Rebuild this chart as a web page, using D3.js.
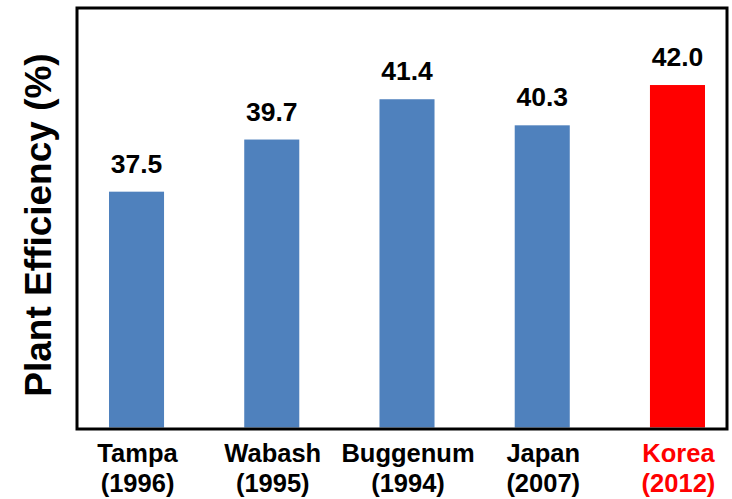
<!DOCTYPE html>
<html>
<head>
<meta charset="utf-8">
<script src="https://cdn.jsdelivr.net/npm/d3@7"></script>
<style>
  html, body { margin: 0; padding: 0; background: #fff; }
  text { font-family: "Liberation Sans", Arial, sans-serif; font-weight: bold; }
</style>
</head>
<body>
<svg id="chart" width="732" height="499"></svg>
<script>
const categories = ["Tampa", "Wabash", "Buggenum", "Japan", "Korea"];
const years = ["(1996)", "(1995)", "(1994)", "(2007)", "(2012)"];
const efficiency = [37.5, 39.7, 41.4, 40.3, 42.0];
const highlight = ["Korea"];
const yTitle = "Plant Efficiency (%)";

const svg = d3.select("#chart");
const frame = { left: 77, top: 8, right: 727, bottom: 429 };

const x = d3.scaleBand()
  .domain(categories)
  .range([68.9, 745.1])
  .paddingInner(0.593)
  .paddingOuter(0.2965);

const y = d3.scaleLinear()
  .domain([27.55, 45.25])
  .range([427.5, 8]);

const data = categories.map((c, i) => ({ cat: c, year: years[i], v: efficiency[i] }));

// bars
svg.append("g").selectAll("rect").data(data).join("rect")
  .attr("x", d => x(d.cat))
  .attr("width", x.bandwidth())
  .attr("y", d => y(d.v))
  .attr("height", d => y.range()[0] - y(d.v))
  .attr("fill", d => highlight.includes(d.cat) ? "#ff0000" : "#4f81bd");

// value labels
svg.append("g").selectAll("text").data(data).join("text")
  .attr("x", d => x(d.cat) + x.bandwidth() / 2)
  .attr("y", d => y(d.v) - 19)
  .attr("text-anchor", "middle")
  .attr("font-size", 26.5)
  .attr("fill", "#000")
  .text(d => d.v.toFixed(1));

// frame
svg.append("rect")
  .attr("x", frame.left).attr("y", frame.top)
  .attr("width", frame.right - frame.left)
  .attr("height", frame.bottom - frame.top)
  .attr("fill", "none")
  .attr("stroke", "#000")
  .attr("stroke-width", 3);

// category labels
const xl = svg.append("g").selectAll("text").data(data).join("text")
  .attr("text-anchor", "middle")
  .attr("font-size", 25.5)
  .attr("fill", d => highlight.includes(d.cat) ? "#ff0000" : "#000");
xl.append("tspan")
  .attr("x", d => x(d.cat) + x.bandwidth() / 2 + 1)
  .attr("y", 462)
  .text(d => d.cat);
xl.append("tspan")
  .attr("x", d => x(d.cat) + x.bandwidth() / 2 + 1)
  .attr("y", 492)
  .text(d => d.year);

// y title
svg.append("text")
  .attr("transform", "translate(51,225) rotate(-90)")
  .attr("text-anchor", "middle")
  .attr("font-size", 37)
  .attr("fill", "#000")
  .text(yTitle);
</script>
</body>
</html>
